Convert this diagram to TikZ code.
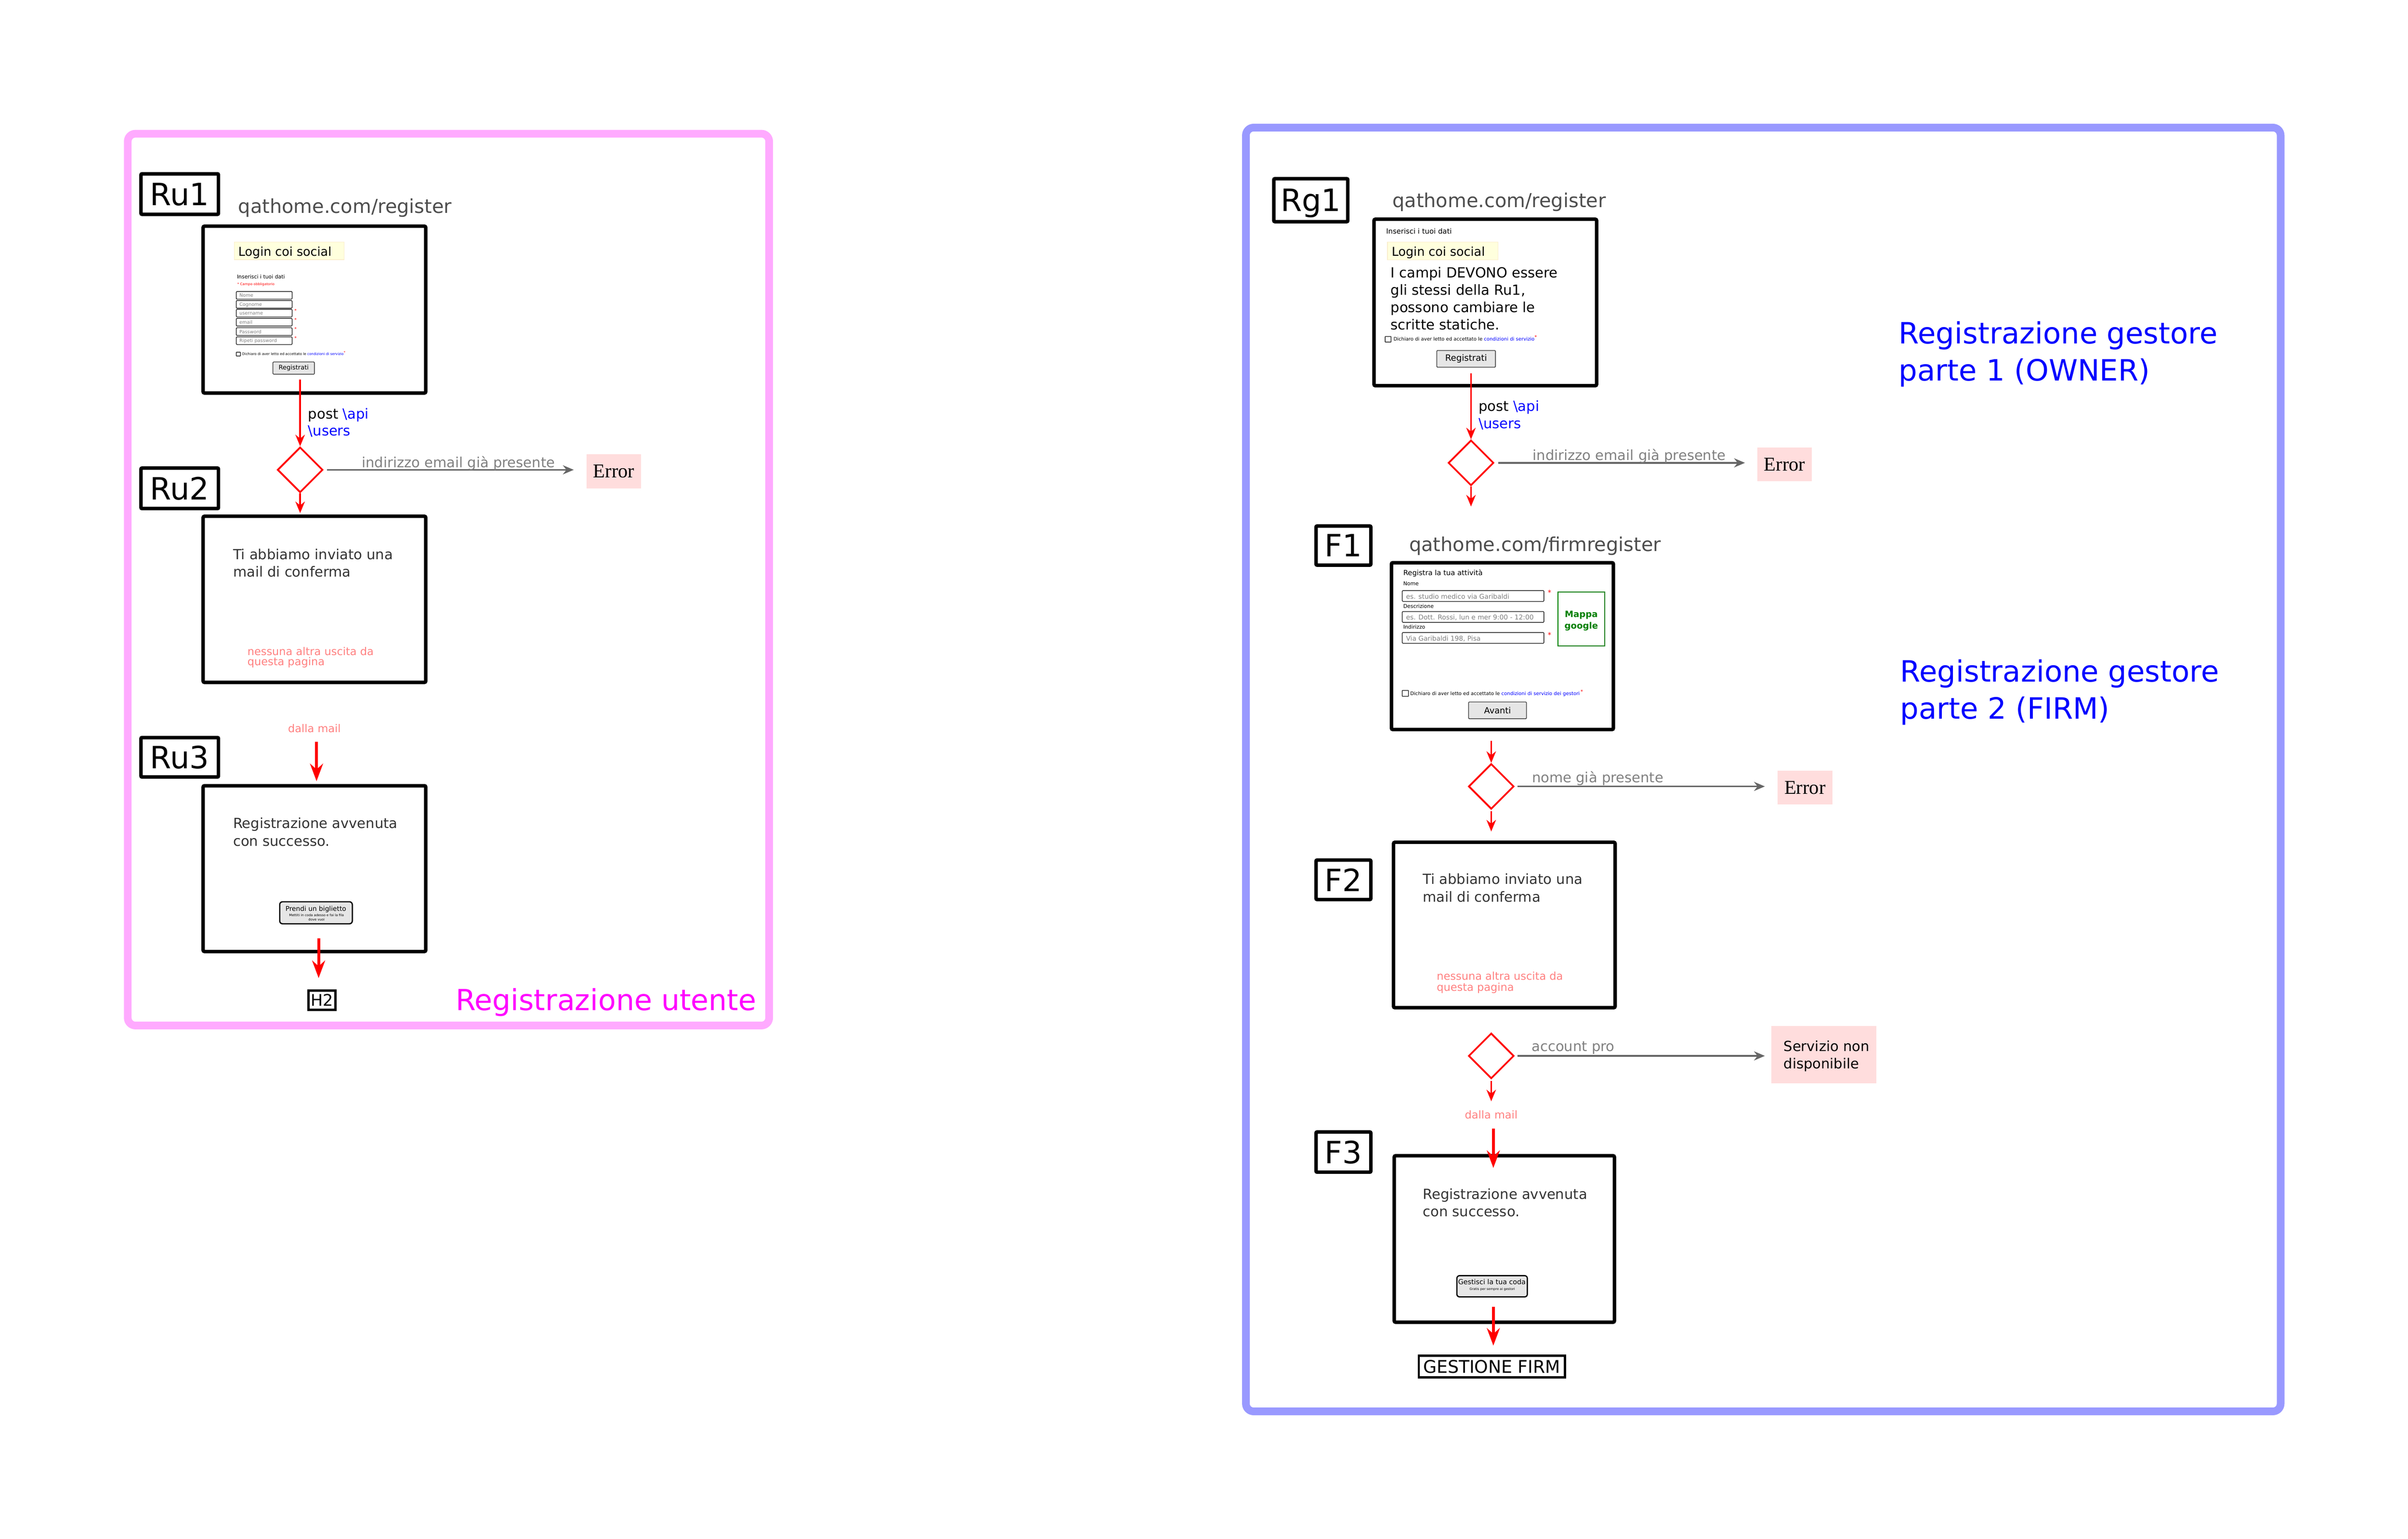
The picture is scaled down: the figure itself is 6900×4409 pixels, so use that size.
\documentclass[tikz,border=0pt]{standalone}
\usepackage{fontspec}
\setmainfont{DejaVu Sans}
\newfontfamily\serifF{Liberation Serif}
\usetikzlibrary{arrows.meta,shapes.geometric}
\newcommand\fsz[1]{\fontsize{#1}{#1}\selectfont}
\newcommand\twolines[3]{\vtop{\baselineskip=#1\lineskiplimit=-100pt\hbox{#2}\hbox{#3}}}
\definecolor{pinkframe}{RGB}{255,170,255}
\definecolor{blueframe}{RGB}{153,153,255}
\definecolor{errpink}{RGB}{255,221,221}
\definecolor{softyellow}{RGB}{255,255,221}
\definecolor{yellowedge}{RGB}{250,238,205}
\definecolor{salmon}{RGB}{255,128,128}
\definecolor{arrgray}{RGB}{102,102,102}
\definecolor{lblgray}{RGB}{128,128,128}
\definecolor{urlgray}{RGB}{77,77,77}
\definecolor{darktxt}{RGB}{51,51,51}
\definecolor{btnfill}{RGB}{230,230,230}
\definecolor{linkblue}{RGB}{0,0,255}
\definecolor{mapgreen}{RGB}{0,128,0}
\definecolor{phgray}{RGB}{128,128,128}
\definecolor{magentatitle}{RGB}{255,0,255}
\begin{document}
\begin{tikzpicture}[x=0.1pt,y=-0.1pt,
  framebox/.style={line width=2.2pt, rounded corners=2.2pt, inner sep=0pt},
  pagebox/.style={draw=black, line width=1pt, rounded corners=0.4pt, inner sep=0pt},
  labbox/.style={draw=black, line width=1pt, rounded corners=0.3pt, inner sep=0pt, text depth=0pt, font=\fsz{8.8}},
  smallbox/.style={draw=black, line width=0.6pt, inner sep=0pt, text depth=0pt},
  txt/.style={anchor=base west, inner sep=0pt},
  ctxt/.style={anchor=base, inner sep=0pt},
  errbox/.style={fill=errpink, inner sep=0pt, outer sep=0pt},
  yellowbox/.style={fill=softyellow, draw=yellowedge, line width=0.15pt, inner sep=0pt, anchor=north west},
  field/.style={draw=black!85, line width=0.2pt, rounded corners=0.2pt, inner sep=0pt, anchor=north west},
  chk/.style={draw=black!85, line width=0.2pt, rounded corners=0.1pt, inner sep=0pt, anchor=north west},
  btn/.style={fill=btnfill, draw=black!75, line width=0.2pt, rounded corners=0.2pt, inner sep=0pt},
  bigbtn/.style={fill=btnfill, draw=black, line width=0.35pt, rounded corners=0.8pt, inner sep=0pt},
  decision/.style={diamond, aspect=1, draw=red, line width=0.5pt, minimum width=13pt, minimum height=13pt, inner sep=0pt},
  redthin/.style={draw=red, line width=0.5pt, -{Stealth[length=3.3pt,width=2.7pt]}},
  redthick/.style={draw=red, line width=0.8pt, -{Stealth[length=5pt,width=3.7pt]}},
  grayarr/.style={draw=arrgray, line width=0.5pt, -{Stealth[length=3.1pt,width=2.6pt]}},
]
\fill[white] (0,0) rectangle (6900,4409);
\useasboundingbox (0,0) rectangle (6900,4409);

% ================= LEFT PANEL =================
\node[framebox, draw=pinkframe, minimum width=183.8pt, minimum height=255.5pt] (leftpanel) at (1285,1660.5) {};

% Ru1
\node[labbox, minimum width=22.2pt, minimum height=11.6pt] (ru1lab) at (515,556) {Ru1};
\node[txt, font=\fsz{5.5}, text=urlgray] (ru1url) at (681,611) {qathome.com/register};
\node[pagebox, minimum width=63.8pt, minimum height=47.8pt] (ru1page) at (901,887) {};
\node[yellowbox, minimum width=31.5pt, minimum height=5pt] (ru1login) at (670,693) {};
\node[txt, font=\fsz{3.5}] (ru1logintxt) at (681,733) {Login coi social};
\node[txt, font=\fsz{1.5}] (ru1ins) at (677,798) {Inserisci i tuoi dati};
\node[txt, font=\fsz{1.0}, text=red] (ru1obb) at (678,818) {* Campo obbligatorio};
\node[field, minimum width=16pt, minimum height=2.2pt] (ru1f1) at (676,834) {};
\node[txt, font=\fsz{1.35}, text=phgray] (ru1f1t) at (684,851) {Nome};
\node[field, minimum width=16pt, minimum height=2.2pt] (ru1f2) at (676,860) {};
\node[txt, font=\fsz{1.35}, text=phgray] (ru1f2t) at (684,877) {Cognome};
\node[field, minimum width=16pt, minimum height=2.2pt] (ru1f3) at (676,885) {};
\node[txt, font=\fsz{1.35}, text=phgray] (ru1f3t) at (684,902) {username};
\node[txt, font=\fsz{1.3}, text=red] (ru1f3s) at (840,895) {*};
\node[field, minimum width=16pt, minimum height=2.2pt] (ru1f4) at (676,911) {};
\node[txt, font=\fsz{1.35}, text=phgray] (ru1f4t) at (684,928) {email};
\node[txt, font=\fsz{1.3}, text=red] (ru1f4s) at (840,921) {*};
\node[field, minimum width=16pt, minimum height=2.2pt] (ru1f5) at (676,938) {};
\node[txt, font=\fsz{1.35}, text=phgray] (ru1f5t) at (684,955) {Password};
\node[txt, font=\fsz{1.3}, text=red] (ru1f5s) at (840,948) {*};
\node[field, minimum width=16pt, minimum height=2.2pt] (ru1f6) at (676,964) {};
\node[txt, font=\fsz{1.35}, text=phgray] (ru1f6t) at (684,981) {Ripeti password};
\node[txt, font=\fsz{1.3}, text=red] (ru1f6s) at (840,974) {*};
\node[chk, minimum width=1.2pt, minimum height=1.1pt] (ru1chk) at (676,1008) {};
\node[txt, font=\fsz{1.0}] (ru1chkt) at (692,1018) {Dichiaro di aver letto ed accettato le \textcolor{linkblue}{condizioni di servizio}\textcolor{red}{\raisebox{0.4em}{*}}};
\node[btn, minimum width=11.9pt, minimum height=3.5pt, font=\fsz{1.8}] (ru1btn) at (841.5,1054.5) {Registrati};

\coordinate (ru1out) at (860,1088);
\node[decision] (dia1) at (860,1346) {};
\draw[redthin] (ru1out) -- (dia1.north);
\node[txt, font=\fsz{4}] (ru1post) at (881,1200) {\twolines{4.8pt}{post \textcolor{linkblue}{\textbackslash api}}{\textcolor{linkblue}{\textbackslash users}}};

\node[errbox, minimum width=15.6pt, minimum height=9.7pt, font=\serifF\fsz{5.6}] (err1) at (1759,1350.5) {Error};
\draw[grayarr, shorten <=1pt, shorten >=3.7pt] (dia1.east) -- (dia1.east -| err1.west);
\node[txt, font=\fsz{4}, text=lblgray] (ru1lbl) at (1035,1339) {indirizzo email già presente};

% Ru2
\node[labbox, minimum width=22.2pt, minimum height=11.6pt] (ru2lab) at (515,1399) {Ru2};
\node[pagebox, minimum width=63.8pt, minimum height=47.6pt] (ru2page) at (901,1717) {};
\draw[redthin, shorten >=0.4pt] (dia1.south) -- (dia1.south |- ru2page.north);
\node[txt, font=\fsz{4}, text=darktxt] (ru2msg) at (666,1603) {\twolines{4.9pt}{Ti abbiamo inviato una}{mail di conferma}};
\node[txt, font=\fsz{3.1}, text=salmon] (ru2note) at (707,1877) {\twolines{3.0pt}{nessuna altra uscita da}{questa pagina}};

% Ru3
\node[ctxt, font=\fsz{3.1}, text=salmon] (dalla1) at (901,2098) {dalla mail};
\node[labbox, minimum width=22.2pt, minimum height=11.3pt] (ru3lab) at (515,2169.5) {Ru3};
\node[pagebox, minimum width=63.8pt, minimum height=47.5pt] (ru3page) at (901,2488.5) {};
\coordinate (d1s) at (907,2125);
\draw[redthick, shorten >=0.8pt] (d1s) -- (d1s |- ru3page.north);
\node[txt, font=\fsz{4}, text=darktxt] (ru3msg) at (666,2373) {\twolines{5.1pt}{Registrazione avvenuta}{con successo.}};
\node[bigbtn, minimum width=20.8pt, minimum height=6.3pt] (ru3btn) at (905.5,2615) {};
\node[ctxt, font=\fsz{1.9}] (ru3btnt) at (905,2610) {Prendi un biglietto};
\node[ctxt, font=\fsz{0.95}] (ru3btns1) at (907,2626) {Mettiti in coda adesso e fai la fila};
\node[ctxt, font=\fsz{0.95}] (ru3btns2) at (907,2638) {dove vuoi};
\node[smallbox, minimum width=7.7pt, minimum height=5.5pt, font=\fsz{4.6}] (h2) at (922.5,2865.5) {H2};
\coordinate (ru3out) at (913,2688);
\draw[redthick, shorten >=3.3pt] (ru3out) -- (ru3out |- h2.north);

\node[txt, font=\fsz{8.3}, text=magentatitle] (titleleft) at (1304,2894) {Registrazione utente};

% ================= RIGHT PANEL =================
\node[framebox, draw=blueframe, minimum width=296.5pt, minimum height=367.8pt] (rightpanel) at (5052.5,2204.5) {};

% Rg1
\node[labbox, minimum width=21.2pt, minimum height=12.3pt] (rg1lab) at (3756,573.5) {Rg1};
\node[txt, font=\fsz{5.5}, text=urlgray] (rg1url) at (3988,594) {qathome.com/register};
\node[pagebox, minimum width=63.8pt, minimum height=47.7pt] (rg1page) at (4256,866.5) {};
\node[txt, font=\fsz{2.05}] (rg1ins) at (3970,670) {Inserisci i tuoi dati};
\node[yellowbox, minimum width=31.7pt, minimum height=5.1pt] (rg1login) at (3975,693) {};
\node[txt, font=\fsz{3.5}] (rg1logintxt) at (3986,734) {Login coi social};
\node[txt, font=\fsz{4}] (rg1note) at (3983,795) {\vtop{\baselineskip=4.98pt\lineskiplimit=-100pt\hbox{I campi DEVONO essere}\hbox{gli stessi della Ru1,}\hbox{possono cambiare le}\hbox{scritte statiche.}}};
\node[chk, minimum width=1.7pt, minimum height=1.6pt] (rg1chk) at (3968,963) {};
\node[txt, font=\fsz{1.39}] (rg1chkt) at (3991,977) {Dichiaro di aver letto ed accettato le \textcolor{linkblue}{condizioni di servizio}\textcolor{red}{\raisebox{0.4em}{*}}};
\node[btn, minimum width=16.8pt, minimum height=4.8pt, font=\fsz{2.5}] (rg1btn) at (4201,1028) {Registrati};

\coordinate (rg1out) at (4215,1069);
\node[decision] (dia2) at (4215,1326) {};
\draw[redthin] (rg1out) -- (dia2.north);
\node[txt, font=\fsz{4}] (rg1post) at (4235,1178) {\twolines{5pt}{post \textcolor{linkblue}{\textbackslash api}}{\textcolor{linkblue}{\textbackslash users}}};
\coordinate (dia2end) at (4215,1451);
\draw[redthin] (dia2.south) -- (dia2end);
\node[errbox, minimum width=15.7pt, minimum height=9.7pt, font=\serifF\fsz{5.6}] (err2) at (5113.5,1330.5) {Error};
\draw[grayarr, shorten <=1pt, shorten >=3.5pt] (dia2.east) -- (dia2.east -| err2.west);
\node[txt, font=\fsz{4}, text=lblgray] (rg1lbl) at (4390,1318) {indirizzo email già presente};

\node[txt, font=\fsz{8.4}, text=linkblue] (title1) at (5439,985) {\twolines{10.6pt}{Registrazione gestore}{parte 1 (OWNER)}};
\node[txt, font=\fsz{8.4}, text=linkblue] (title2) at (5443,1954) {\twolines{10.6pt}{Registrazione gestore}{parte 2 (FIRM)}};

% F1
\node[labbox, minimum width=15.7pt, minimum height=11.2pt] (f1lab) at (3849.5,1563) {F1};
\node[txt, font=\fsz{5.5}, text=urlgray] (f1url) at (4036,1579) {qathome.com/firmregister};
\node[pagebox, minimum width=63.6pt, minimum height=47.8pt] (f1page) at (4305,1851) {};
\node[txt, font=\fsz{2.04}] (f1head) at (4019,1649) {Registra la tua attività};
\node[txt, font=\fsz{1.5}] (f1l1) at (4019,1678) {Nome};
\node[field, minimum width=40.6pt, minimum height=3.1pt] (f1f1) at (4017,1691) {};
\node[txt, font=\fsz{1.9}, text=phgray] (f1f1t) at (4027,1716) {es. studio medico via Garibaldi};
\node[txt, font=\fsz{2}, text=red] (f1f1s) at (4433,1705) {*};
\node[txt, font=\fsz{1.5}] (f1l2) at (4019,1742) {Descrizione};
\node[field, minimum width=40.6pt, minimum height=3.1pt] (f1f2) at (4017,1751) {};
\node[txt, font=\fsz{1.9}, text=phgray] (f1f2t) at (4027,1776) {es. Dott. Rossi, lun e mer 9:00 - 12:00};
\node[txt, font=\fsz{1.5}] (f1l3) at (4019,1801) {Indirizzo};
\node[field, minimum width=40.6pt, minimum height=3.1pt] (f1f3) at (4017,1811) {};
\node[txt, font=\fsz{1.9}, text=phgray] (f1f3t) at (4027,1836) {Via Garibaldi 198, Pisa};
\node[txt, font=\fsz{2}, text=red] (f1f3s) at (4433,1826) {*};
\node[draw=mapgreen, line width=0.25pt, inner sep=0pt, minimum width=13.4pt, minimum height=15.5pt] (f1map) at (4531,1773.5) {};
\node[ctxt, font=\bfseries\fsz{2.5}, text=mapgreen] (f1mapt1) at (4531,1769) {Mappa};
\node[ctxt, font=\bfseries\fsz{2.5}, text=mapgreen] (f1mapt2) at (4531,1801) {google};
\node[chk, minimum width=1.8pt, minimum height=1.7pt] (f1chk) at (4017,1977) {};
\node[txt, font=\fsz{1.4}] (f1chkt) at (4039,1992) {Dichiaro di aver letto ed accettato le \textcolor{linkblue}{condizioni di servizio dei gestori}\,\textcolor{red}{\raisebox{0.4em}{*}}};
\node[btn, minimum width=16.6pt, minimum height=4.8pt, font=\fsz{2.45}] (f1avanti) at (4291,2035) {Avanti};

\coordinate (f1out) at (4273,2122);
\node[decision] (dia3) at (4273,2253) {};
\draw[redthin] (f1out) -- (dia3.north);
\node[errbox, minimum width=15.8pt, minimum height=9.7pt, font=\serifF\fsz{5.6}] (err3) at (5172,2256.5) {Error};
\draw[grayarr, shorten <=0.75pt, shorten >=3.6pt] (dia3.east) -- (dia3.east -| err3.west);
\node[txt, font=\fsz{4}, text=lblgray] (f1lbl) at (4388,2242) {nome già presente};

% F2
\node[labbox, minimum width=15.7pt, minimum height=11.3pt] (f2lab) at (3849.5,2520.5) {F2};
\node[pagebox, minimum width=63.5pt, minimum height=47.4pt] (f2page) at (4310.5,2650) {};
\draw[redthin, shorten <=0.35pt, shorten >=2.6pt] (dia3.south) -- (dia3.south |- f2page.north);
\node[txt, font=\fsz{4}, text=darktxt] (f2msg) at (4075,2533) {\twolines{5.1pt}{Ti abbiamo inviato una}{mail di conferma}};
\node[txt, font=\fsz{3.1}, text=salmon] (f2note) at (4115,2808) {\twolines{3.1pt}{nessuna altra uscita da}{questa pagina}};

\node[decision] (dia4) at (4273,3025) {};
\node[errbox, minimum width=30pt, minimum height=16.3pt] (srv) at (5226,3021.5) {};
\node[txt, font=\fsz{4}] (srvt) at (5109,3012) {\twolines{5pt}{Servizio non}{disponibile}};
\draw[grayarr, shorten <=0.75pt, shorten >=1.9pt] (dia4.east) -- (dia4.east -| srv.west);
\node[txt, font=\fsz{4}, text=lblgray] (f2lbl) at (4387,3012) {account pro};
\coordinate (dia4end) at (4273,3155);
\draw[redthin, shorten <=0.4pt] (dia4.south) -- (dia4end);

% F3
\node[ctxt, font=\fsz{3.1}, text=salmon] (dalla2) at (4273,3205) {dalla mail};
\node[labbox, minimum width=15.7pt, minimum height=11.5pt] (f3lab) at (3849.5,3300.5) {F3};
\node[pagebox, minimum width=63.1pt, minimum height=47.7pt] (f3page) at (4310.5,3549.5) {};
\coordinate (d2s) at (4279,3233);
\coordinate (d2e) at (4279,3346);
\draw[redthick] (d2s) -- (d2e);
\node[txt, font=\fsz{4}, text=darktxt] (f3msg) at (4075,3435) {\twolines{5pt}{Registrazione avvenuta}{con successo.}};
\node[bigbtn, minimum width=20.2pt, minimum height=6.1pt] (f3btn) at (4275.5,3685) {};
\node[ctxt, font=\fsz{1.97}] (f3btnt) at (4275,3680) {Gestisci la tua coda};
\node[ctxt, font=\fsz{0.93}] (f3btns) at (4276,3696) {Gratis per sempre ai gestori};
\node[smallbox, minimum width=41.9pt, minimum height=6.2pt, font=\fsz{5.0}] (gest) at (4274.5,3915) {GESTIONE FIRM};
\coordinate (f3out) at (4279,3744);
\draw[redthick, shorten >=2.6pt] (f3out) -- (f3out |- gest.north);
\end{tikzpicture}
\end{document}
